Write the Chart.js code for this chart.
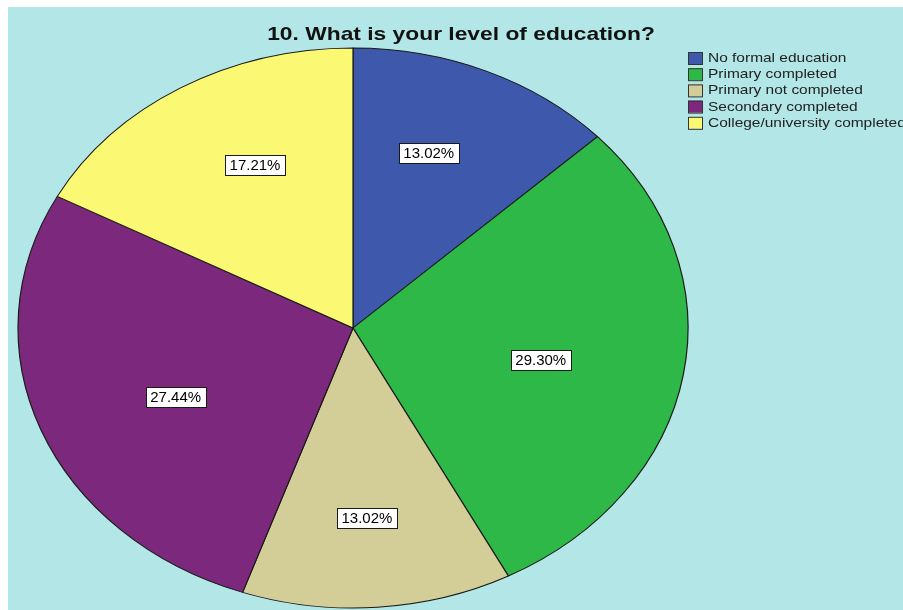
<!DOCTYPE html>
<html>
<head>
<meta charset="utf-8">
<script src="https://cdn.jsdelivr.net/npm/chart.js@4"></script>
<style>
  html, body { margin: 0; padding: 0; background: #ffffff; }
  #wrap { position: absolute; left: 8px; top: 7px; width: 895px; height: 603px; background: #b3e6e6; }
</style>
</head>
<body>
<div id="wrap"><canvas id="eduChart"></canvas></div>
<script>
// Pie data
const categories = ['No formal education', 'Primary completed', 'Primary not completed', 'Secondary completed', 'College/university completed'];
const percents = [13.02, 29.30, 13.02, 27.44, 17.21];
const sliceColors = ['#3e58ac', '#2eb848', '#d3ce97', '#7c287d', '#fbf873'];
const chartTitle = '10. What is your level of education?';

// the SPSS export is stretched wider than tall, text included
const stretchX = 335 / 280;

const ellipsePie = {
  id: 'ellipsePie',
  beforeDatasetsDraw(chart) {
    const arc = chart.getDatasetMeta(0).data[0];
    const ctx = chart.ctx;
    ctx.save();
    ctx.translate(arc.x, arc.y);
    ctx.scale(stretchX, 1);
    ctx.translate(-arc.x, -arc.y);
  },
  afterDatasetsDraw(chart) {
    const ctx = chart.ctx;
    ctx.restore();

    // percentage boxes
    ctx.save();
    ctx.font = '15px "Liberation Sans", Arial, sans-serif';
    ctx.textAlign = 'center';
    ctx.textBaseline = 'middle';
    chart.getDatasetMeta(0).data.forEach((arc, i) => {
      const p = arc.getProps(['x', 'y', 'startAngle', 'endAngle', 'outerRadius'], true);
      const mid = (p.startAngle + p.endAngle) / 2;
      const lx = p.x + Math.cos(mid) * p.outerRadius * 0.68;
      const ly = p.y + Math.sin(mid) * p.outerRadius * 0.68;
      const txt = percents[i].toFixed(2) + '%';
      const w = ctx.measureText(txt).width + 9;
      const h = 20;
      ctx.fillStyle = '#ffffff';
      ctx.fillRect(Math.round(lx - w / 2), Math.round(ly - h / 2), Math.round(w), h);
      ctx.strokeStyle = '#1a1a1a';
      ctx.lineWidth = 1;
      ctx.strokeRect(Math.round(lx - w / 2) + 0.5, Math.round(ly - h / 2) + 0.5, Math.round(w), h);
      ctx.fillStyle = '#000000';
      ctx.fillText(txt, lx, ly + 1);
    });
    ctx.restore();
  },
  afterDraw(chart) {
    const ctx = chart.ctx;
    // title
    ctx.save();
    ctx.translate(453, 33);
    ctx.scale(1.2, 1);
    ctx.font = 'bold 19px "Liberation Sans", Arial, sans-serif';
    ctx.fillStyle = '#111111';
    ctx.textAlign = 'center';
    ctx.textBaseline = 'alphabetic';
    ctx.fillText(chartTitle, 0, 0);
    ctx.restore();

    // legend
    ctx.save();
    ctx.font = '13px "Liberation Sans", Arial, sans-serif';
    ctx.textBaseline = 'middle';
    chart.data.labels.forEach((lab, i) => {
      const y = 45 + i * 16.2;
      ctx.fillStyle = sliceColors[i];
      ctx.fillRect(680, y, 14, 12);
      ctx.strokeStyle = '#333333';
      ctx.lineWidth = 1;
      ctx.strokeRect(680.5, y + 0.5, 14, 12);
      ctx.save();
      ctx.translate(700, y + 6.5);
      ctx.scale(1.19, 1);
      ctx.fillStyle = '#222222';
      ctx.fillText(lab, 0, 0);
      ctx.restore();
    });
    ctx.restore();
  }
};

new Chart(document.getElementById('eduChart'), {
  type: 'pie',
  data: {
    labels: categories,
    datasets: [{
      data: percents,
      backgroundColor: sliceColors,
      borderColor: '#1a1a1a',
      borderWidth: 1,
      clip: false
    }]
  },
  options: {
    responsive: true,
    maintainAspectRatio: false,
    animation: false,
    radius: 280,
    layout: { padding: { left: 0, right: 205, top: 41, bottom: 2 } },
    plugins: {
      legend: { display: false },
      title: { display: false },
      tooltip: { enabled: false }
    }
  },
  plugins: [ellipsePie]
});
</script>
</body>
</html>
